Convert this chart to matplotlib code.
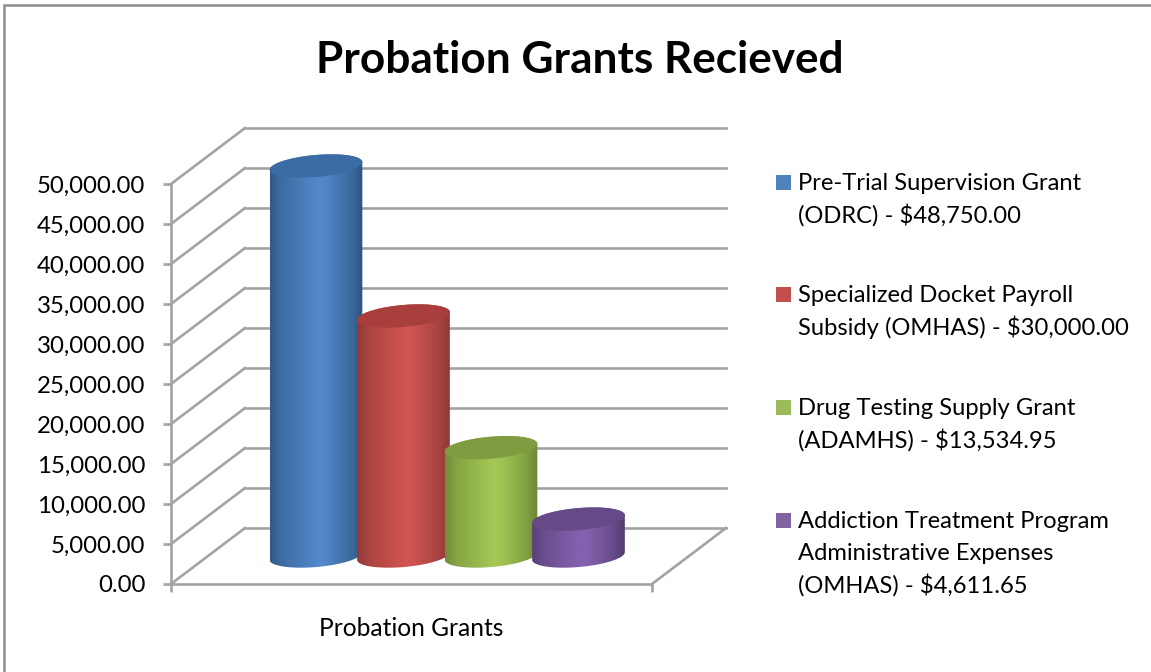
import numpy as np
import matplotlib
matplotlib.use("Agg")
import matplotlib.pyplot as plt
from matplotlib.patches import Polygon, Rectangle
from matplotlib.transforms import Affine2D
from matplotlib.colors import to_rgb

title = "Probation Grants Recieved"
category = "Probation Grants"
grant_names = [
    "Pre-Trial Supervision Grant\n(ODRC) - $48,750.00",
    "Specialized Docket Payroll\nSubsidy (OMHAS) - $30,000.00",
    "Drug Testing Supply Grant\n(ADAMHS) - $13,534.95",
    "Addiction Treatment Program\nAdministrative Expenses\n(OMHAS) - $4,611.65",
]
grant_values = [48750.00, 30000.00, 13534.95, 4611.65]
y_ticks = [0, 5000, 10000, 15000, 20000, 25000, 30000, 35000, 40000, 45000, 50000]

# centre, edge, lid colours of each cylinder
centre_colors = ["#5288CA", "#D05451", "#A4C754", "#8661B0"]
edge_colors = ["#2E5480", "#8A3734", "#6B8636", "#523C70"]
lid_colors = ["#3B6CA3", "#A83F3C", "#7F9D40", "#654A87"]
legend_colors = ["#4F81BD", "#C0504D", "#9BBB59", "#8064A2"]

W, H = 1151, 672
GRID = "#A3A3A3"
GRID_LW = 1.9

plt.rcParams["font.family"] = ["Lato", "DejaVu Sans"]

fig = plt.figure(figsize=(W / 100, H / 100), dpi=100)
ax = fig.add_axes([171 / W, (H - 584) / H, 481 / W, 400 / H])
ax.set_xlim(0, 1)
ax.set_ylim(0, 50000)
ax.set_facecolor("none")
for side in ["top", "right"]:
    ax.spines[side].set_visible(False)
for side in ["left", "bottom"]:
    ax.spines[side].set_color(GRID)
    ax.spines[side].set_linewidth(GRID_LW)

ax.set_yticks(y_ticks)
ax.set_yticklabels(["{:,.2f}".format(v) for v in y_ticks], fontsize=17.3)
ax.tick_params(axis="y", length=6, width=GRID_LW, color=GRID, pad=12.5)
ax.set_xticks([0, 1])
ax.set_xticklabels(["", ""])
ax.tick_params(axis="x", length=6, width=GRID_LW, color=GRID)
ax.set_xticks([0.5], [category], minor=True)
ax.tick_params(axis="x", which="minor", length=0, pad=24, labelsize=17.7)

# depth of the 3d box in pixels
dx, dy = 74, 56
back = ax.transData + Affine2D().translate(dx, dy)
for v in y_ticks:
    ax.plot([0, 1], [v, v], color=GRID, lw=GRID_LW, transform=back, clip_on=False, zorder=1)
    x0, y0 = ax.transData.transform((0, v))
    ax.plot([x0, x0 + dx], [y0, y0 + dy], color=GRID, lw=GRID_LW,
            transform=None, clip_on=False, zorder=1)
x1, y1 = ax.transData.transform((1, 0))
ax.plot([x1, x1 + dx], [y1, y1 + dy], color=GRID, lw=GRID_LW,
        transform=None, clip_on=False, zorder=1)

# cylinders
pitch = 87.5 / 481
first = (316 - 171 - dx / 2) / 481
a, b, tilt = 46.5, 11, np.radians(5)
data_from_px = ax.transData.inverted()


def ellipse(cx, cy, t):
    ex = a * np.cos(t)
    ey = b * np.sin(t)
    return np.column_stack([
        cx + ex * np.cos(tilt) - ey * np.sin(tilt),
        cy + ex * np.sin(tilt) + ey * np.cos(tilt),
    ])


n_col = 200
s = np.linspace(0, 1, n_col)
for i, value in enumerate(grant_values):
    z = 3 + i
    px = ax.transData.transform((first + i * pitch, 0))[0] + dx / 2
    py0 = ax.transData.transform((0, 0))[1] + dy / 2
    py1 = ax.transData.transform((0, value))[1] + dy / 2

    t_all = np.linspace(0, 2 * np.pi, 200)
    low = ellipse(px, py0, np.linspace(np.pi, 2 * np.pi, 80))
    top = ellipse(px, py1, t_all)
    body = np.vstack([low, ellipse(px, py1, np.linspace(0, np.pi, 80))])

    c0 = np.array(to_rgb(edge_colors[i]))
    c1 = np.array(to_rgb(centre_colors[i]))
    mix = np.interp(s, [0, 0.12, 0.5, 0.58, 0.88, 1], [0.1, 0.45, 1, 1, 0.4, 0])
    grad = (c0[None, :] * (1 - mix[:, None]) + c1[None, :] * mix[:, None])[None, :, :]

    left, bottom = data_from_px.transform((px - a, py0 - b - 4))
    right, upper = data_from_px.transform((px + a, py1 + b + 4))
    clip = Polygon(body, closed=True, transform=None, fc="none", ec="none")
    ax.add_patch(clip)
    im = ax.imshow(grad, extent=[left, right, bottom, upper], aspect="auto",
                   interpolation="bilinear", zorder=z, origin="lower")
    im.set_clip_path(clip)
    im.set_clip_box(fig.bbox)
    ax.add_patch(Polygon(top, closed=True, transform=None, fc=lid_colors[i],
                         ec="none", zorder=z + 0.5, clip_on=False))

ax.set_xlim(0, 1)
ax.set_ylim(0, 50000)

# legend
line_h = 32
entry_pitch = 112.7
for i, name in enumerate(grant_names):
    yc = 182 + i * entry_pitch
    fig.add_artist(Rectangle((776 / W, 1 - (yc + 7.5) / H), 15 / W, 15 / H,
                             transform=fig.transFigure, fc=legend_colors[i], ec="none"))
    for j, line in enumerate(name.split("\n")):
        fig.text(798 / W, 1 - (yc + 1 + j * line_h) / H, line, fontsize=17.15,
                 ha="left", va="center", color="black")

fig.text(580 / W, 1 - 60 / H, title, fontsize=31.8, fontweight="bold",
         ha="center", va="center", color="black")

fig.add_artist(Rectangle((4 / W, -5 / H), (W + 10) / W, H / H,
                         transform=fig.transFigure, fc="none", ec="#8C8C8C", lw=1.8))

fig.savefig("out.png", dpi=100)
